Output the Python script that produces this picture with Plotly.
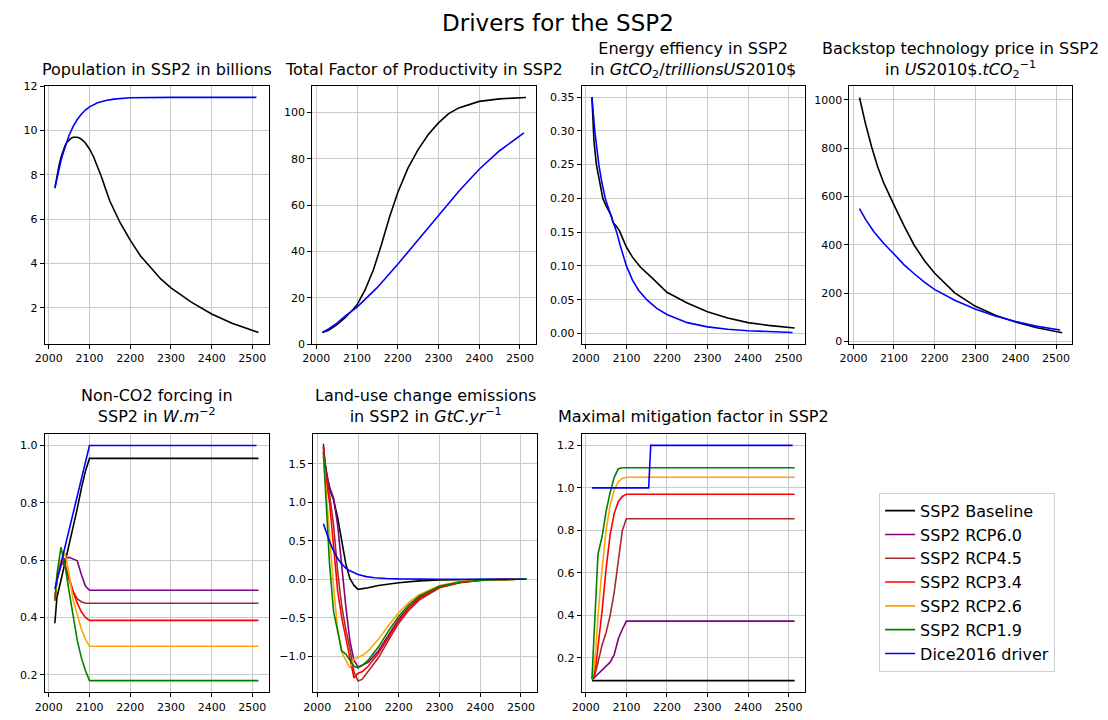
import plotly.graph_objects as go

# ---------------- DATA ----------------
series_names = ["SSP2 Baseline", "SSP2 RCP6.0", "SSP2 RCP4.5", "SSP2 RCP3.4",
                "SSP2 RCP2.6", "SSP2 RCP1.9", "Dice2016 driver"]
series_colors = ["black", "purple", "brown", "red", "orange", "green", "blue"]

# Panel 1 - population (billions)
pop_ssp_years = [2015, 2020, 2025, 2030, 2035, 2040, 2045, 2050, 2055, 2060, 2065, 2070, 2075, 2080, 2090, 2100,
                 2110, 2120, 2130, 2140, 2150, 2175, 2200, 2225, 2250, 2275, 2300, 2350, 2400, 2450, 2515]
pop_ssp = [7.40, 7.95, 8.40, 8.78, 9.08, 9.32, 9.48, 9.59, 9.66, 9.70, 9.71, 9.70, 9.67, 9.61, 9.44, 9.17,
           8.82, 8.38, 7.88, 7.34, 6.82, 5.85, 5.05, 4.35, 3.80, 3.30, 2.90, 2.25, 1.72, 1.30, 0.88]
pop_dice_years = [2015, 2020, 2025, 2030, 2035, 2040, 2050, 2060, 2070, 2080, 2090, 2100,
                  2120, 2140, 2160, 2200, 2300, 2510]
pop_dice = [7.40, 7.85, 8.26, 8.64, 8.97, 9.28, 9.79, 10.19, 10.50, 10.74, 10.93, 11.07,
            11.26, 11.36, 11.42, 11.48, 11.50, 11.50]

# Panel 2 - total factor productivity
tfp_ssp_years = [2015, 2030, 2050, 2070, 2090, 2100, 2120, 2140, 2160, 2180, 2200, 2225, 2250,
                 2275, 2300, 2325, 2350, 2400, 2450, 2515]
tfp_ssp = [5.1, 6.0, 8.3, 11.3, 15.0, 17.0, 23.5, 32.0, 43.0, 55.0, 65.5, 76.0, 84.0,
           90.5, 95.5, 99.5, 102.0, 104.8, 105.9, 106.5]
tfp_dice_years = [2015, 2030, 2050, 2070, 2100, 2150, 2200, 2250, 2300, 2350, 2400, 2450, 2510]
tfp_dice = [5.1, 6.6, 9.0, 12.0, 16.0, 24.5, 34.5, 45.0, 56.0, 66.0, 75.5, 83.5, 91.2]

# Panel 3 - energy efficiency
sig_ssp_years = [2015, 2018, 2020, 2026, 2030, 2042, 2050, 2063, 2067, 2075, 2083, 2090, 2100,
                 2115, 2135, 2164, 2200, 2250, 2300, 2350, 2400, 2450, 2515]
sig_ssp = [0.350, 0.300, 0.285, 0.250, 0.237, 0.200, 0.189, 0.174, 0.164, 0.159, 0.152, 0.142, 0.128,
           0.113, 0.098, 0.082, 0.061, 0.045, 0.032, 0.023, 0.016, 0.012, 0.008]
sig_dice_years = [2015, 2018, 2022, 2026, 2032, 2040, 2048, 2055, 2063, 2070, 2076, 2085, 2100,
                  2115, 2130, 2150, 2175, 2200, 2250, 2300, 2350, 2400, 2450, 2510]
sig_dice = [0.350, 0.322, 0.300, 0.280, 0.250, 0.222, 0.200, 0.187, 0.174, 0.160, 0.150, 0.130, 0.100,
            0.079, 0.064, 0.050, 0.037, 0.028, 0.016, 0.0097, 0.0062, 0.0040, 0.0025, 0.0015]

# Panel 4 - backstop price
back_ssp_years = [2015, 2030, 2045, 2060, 2075, 2090, 2100, 2125, 2150, 2175, 2200, 2250, 2300,
                  2350, 2400, 2450, 2515]
back_ssp = [1010, 900, 805, 722, 655, 597, 565, 478, 398, 335, 283, 201, 146, 108, 80, 57, 36]
back_dice_years = [2015, 2030, 2050, 2075, 2100, 2125, 2150, 2175, 2200, 2250, 2300, 2350, 2400, 2450, 2510]
back_dice = [550, 505, 455, 405, 362, 317, 280, 245, 215, 170, 134, 105, 82, 63, 47]

# Panel 5 - non-CO2 forcing
forc_years = [2015, 2020, 2030, 2040, 2050, 2060, 2070, 2080, 2090, 2100, 2515]
forc_base = [0.38, 0.47, 0.53, 0.59, 0.65, 0.71, 0.78, 0.85, 0.91, 0.955, 0.955]
forc_60 = [0.46, 0.53, 0.58, 0.605, 0.61, 0.605, 0.598, 0.55, 0.51, 0.495, 0.495]
forc_45 = [0.46, 0.53, 0.595, 0.58, 0.53, 0.49, 0.465, 0.455, 0.45, 0.45, 0.45]
forc_34 = [0.46, 0.53, 0.60, 0.585, 0.54, 0.49, 0.45, 0.42, 0.40, 0.39, 0.39]
forc_26 = [0.46, 0.53, 0.60, 0.625, 0.55, 0.46, 0.41, 0.36, 0.325, 0.30, 0.30]
forc_19 = [0.46, 0.55, 0.645, 0.58, 0.49, 0.40, 0.32, 0.26, 0.215, 0.18, 0.18]
forc_dice_years = [2015, 2100, 2510]
forc_dice = [0.5, 1.0, 1.0]

# Panel 6 - land-use change emissions
luc_years = [2015, 2020, 2030, 2040, 2050, 2060, 2070, 2080, 2090, 2100, 2110, 2125, 2150, 2175,
             2200, 2225, 2250, 2300, 2350, 2400, 2450, 2515]
luc_60 = [1.76, 1.45, 1.2, 1.05, 0.7, 0.15, -0.35, -0.8, -1.05, -1.14, -1.12, -1.08, -0.93, -0.72,
          -0.52, -0.36, -0.24, -0.1, -0.04, -0.013, -0.004, 0.005]
luc_45 = [1.72, 1.4, 1.1, 0.7, 0.1, -0.35, -0.65, -0.9, -1.2, -1.32, -1.3, -1.2, -1.02, -0.79,
          -0.57, -0.4, -0.27, -0.11, -0.045, -0.015, -0.005, 0.005]
luc_34 = [1.72, 1.35, 1.0, 0.45, -0.15, -0.5, -0.75, -1.0, -1.28, -1.22, -1.2, -1.13, -0.96, -0.75,
          -0.54, -0.37, -0.25, -0.1, -0.04, -0.013, -0.004, 0.005]
luc_26 = [1.60, 1.25, 0.6, -0.1, -0.65, -0.95, -1.05, -1.15, -1.04, -1.02, -0.99, -0.93, -0.78, -0.6,
          -0.43, -0.3, -0.2, -0.08, -0.03, -0.01, 0.0, 0.005]
luc_19 = [1.65, 1.15, 0.2, -0.42, -0.7, -0.93, -0.97, -1.05, -1.13, -1.15, -1.12, -1.05, -0.88, -0.67,
          -0.48, -0.33, -0.22, -0.09, -0.035, -0.012, -0.003, 0.005]
luc_base_years = [2015, 2020, 2025, 2030, 2040, 2050, 2060, 2070, 2080, 2090, 2100, 2125, 2150,
                  2200, 2250, 2300, 2400, 2515]
luc_base = [1.66, 1.45, 1.30, 1.18, 1.03, 0.80, 0.48, 0.20, 0.01, -0.08, -0.13, -0.11, -0.08,
            -0.045, -0.02, -0.01, -0.002, 0.005]
luc_dice_years = [2015, 2020, 2025, 2030, 2040, 2050, 2060, 2070, 2080, 2090, 2100, 2120, 2140,
                  2170, 2200, 2300, 2510]
luc_dice = [0.72, 0.64, 0.56, 0.49, 0.37, 0.27, 0.20, 0.145, 0.11, 0.083, 0.063, 0.035, 0.02,
            0.01, 0.005, 0.001, 0.0]

# Panel 7 - maximal mitigation factor
mit_years = [2015, 2020, 2025, 2030, 2040, 2050, 2060, 2070, 2080, 2090, 2100, 2515]
mit_60 = [0.10, 0.105, 0.115, 0.125, 0.145, 0.16, 0.18, 0.215, 0.29, 0.335, 0.373, 0.373]
mit_45 = [0.10, 0.11, 0.14, 0.18, 0.26, 0.32, 0.40, 0.51, 0.66, 0.80, 0.855, 0.855]
mit_34 = [0.10, 0.12, 0.17, 0.25, 0.42, 0.62, 0.78, 0.88, 0.935, 0.96, 0.97, 0.97]
mit_26 = [0.10, 0.15, 0.25, 0.40, 0.62, 0.80, 0.92, 0.99, 1.03, 1.045, 1.05, 1.05]
mit_19 = [0.10, 0.30, 0.55, 0.69, 0.77, 0.89, 0.98, 1.05, 1.09, 1.095, 1.095, 1.095]
mit_base_years = [2015, 2515]
mit_base = [0.093, 0.093]
mit_dice_years = [2015, 2155, 2160, 2510]
mit_dice = [1.0, 1.0, 1.2, 1.2]

panel_titles = [
    "Population in SSP2 in billions",
    "Total Factor of Productivity in SSP2",
    "Energy effiency in SSP2<br>in <i>GtCO</i><sub>2</sub>/<i>trillionsUS</i>2010$",
    "Backstop technology price in SSP2<br>in <i>US</i>2010$.<i>tCO</i><sub>2</sub><sup>\u22121</sup>",
    "Non-CO2 forcing in<br>SSP2 in <i>W</i>.<i>m</i><sup>\u22122</sup>",
    "Land-use change emissions<br>in SSP2 in <i>GtC</i>.<i>yr</i><sup>\u22121</sup>",
    "Maximal mitigation factor in SSP2",
]
suptitle = "Drivers for the SSP2"

# ---------------- LAYOUT HELPERS ----------------
W, H = 1108, 720
FONT = "DejaVu Sans"

def fx(p):
    return p / W

def fy(p):
    return 1 - p / H

x_doms = [(35, 261), (305, 531), (577, 802), (847, 1072), (35, 261), (306, 532), (577, 802)]
y_doms = [(82, 345)] * 4 + [(436, 699)] * 3
y_ranges = [[0.35, 12.03], [-0.02, 111.6], [-0.016, 0.367], [-12, 1059],
            [0.139, 1.041], [-1.468, 1.89], [0.038, 1.255]]
y_ticks = [(0, 2, None), (0, 20, None), (0, 0.05, ".2f"), (0, 200, None),
           (0, 0.2, ".1f"), (0, 0.5, ".1f"), (0, 0.2, ".1f")]
title_shift = [5, 5, 3, 3, 6, 6, 6]

fig = go.Figure()

def add(panel, x, y, idx, show=False):
    ax = "" if panel == 1 else str(panel)
    fig.add_trace(go.Scatter(
        x=x, y=y, mode="lines", name=series_names[idx],
        line=dict(color=series_colors[idx], width=1.6),
        xaxis="x" + ax, yaxis="y" + ax,
        legendgroup=series_names[idx], showlegend=show,
        legendrank=idx + 1,
    ))

add(1, pop_ssp_years, pop_ssp, 0)
add(1, pop_dice_years, pop_dice, 6)
add(2, tfp_ssp_years, tfp_ssp, 0)
add(2, tfp_dice_years, tfp_dice, 6)
add(3, sig_ssp_years, sig_ssp, 0)
add(3, sig_dice_years, sig_dice, 6)
add(4, back_ssp_years, back_ssp, 0)
add(4, back_dice_years, back_dice, 6)

add(5, forc_years, forc_base, 0)
for i, s in enumerate([forc_60, forc_45, forc_34, forc_26, forc_19], start=1):
    add(5, forc_years, s, i)
add(5, forc_dice_years, forc_dice, 6)

add(6, luc_base_years, luc_base, 0, True)
for i, s in enumerate([luc_60, luc_45, luc_34, luc_26, luc_19], start=1):
    add(6, luc_years, s, i, True)
add(6, luc_dice_years, luc_dice, 6, True)

add(7, mit_base_years, mit_base, 0)
for i, s in enumerate([mit_60, mit_45, mit_34, mit_26, mit_19], start=1):
    add(7, mit_years, s, i)
add(7, mit_dice_years, mit_dice, 6)

layout = dict(
    width=W, height=H,
    margin=dict(l=0, r=0, t=0, b=0),
    paper_bgcolor="white", plot_bgcolor="white",
    font=dict(family=FONT, color="black", size=11),
    showlegend=True,
    legend=dict(x=fx(877), y=fy(496), xanchor="left", yanchor="top",
                font=dict(family=FONT, size=16, color="black"),
                bordercolor="#d0d0d0", borderwidth=1, bgcolor="white",
                tracegroupgap=0, itemwidth=30),
)

annotations = []
for k in range(7):
    ax = "" if k == 0 else str(k + 1)
    x0, x1 = x_doms[k]
    y0, y1 = y_doms[k]
    t0, dt, fmt = y_ticks[k]
    layout["xaxis" + ax] = dict(
        domain=[fx(x0), fx(x1)], range=[1990, 2540], anchor="y" + ax,
        tick0=2000, dtick=100, showgrid=True, gridcolor="#cacaca", gridwidth=1,
        showline=True, linecolor="black", linewidth=1, mirror=True,
        ticks="outside", ticklen=4, tickcolor="black", zeroline=False,
        tickfont=dict(size=11, family=FONT, color="black"),
    )
    yax = dict(
        domain=[fy(y1), fy(y0)], range=y_ranges[k], anchor="x" + ax,
        tick0=t0, dtick=dt, showgrid=True, gridcolor="#cacaca", gridwidth=1,
        showline=True, linecolor="black", linewidth=1, mirror=True,
        ticks="outside", ticklen=4, tickcolor="black", zeroline=False,
        tickfont=dict(size=11, family=FONT, color="black"),
    )
    if fmt:
        yax["tickformat"] = fmt
    layout["yaxis" + ax] = yax
    annotations.append(dict(
        text=panel_titles[k], xref="paper", yref="paper",
        x=fx((x0 + x1) / 2), y=fy(y0), xanchor="center", yanchor="bottom",
        yshift=title_shift[k], showarrow=False, align="center",
        font=dict(family=FONT, size=16, color="black"),
    ))

annotations.append(dict(
    text=suptitle, xref="paper", yref="paper", x=fx(553), y=fy(18),
    xanchor="center", yanchor="middle", showarrow=False,
    font=dict(family=FONT, size=23, color="black"),
))
layout["annotations"] = annotations

fig.update_layout(**layout)
fig.write_html("out.html")
